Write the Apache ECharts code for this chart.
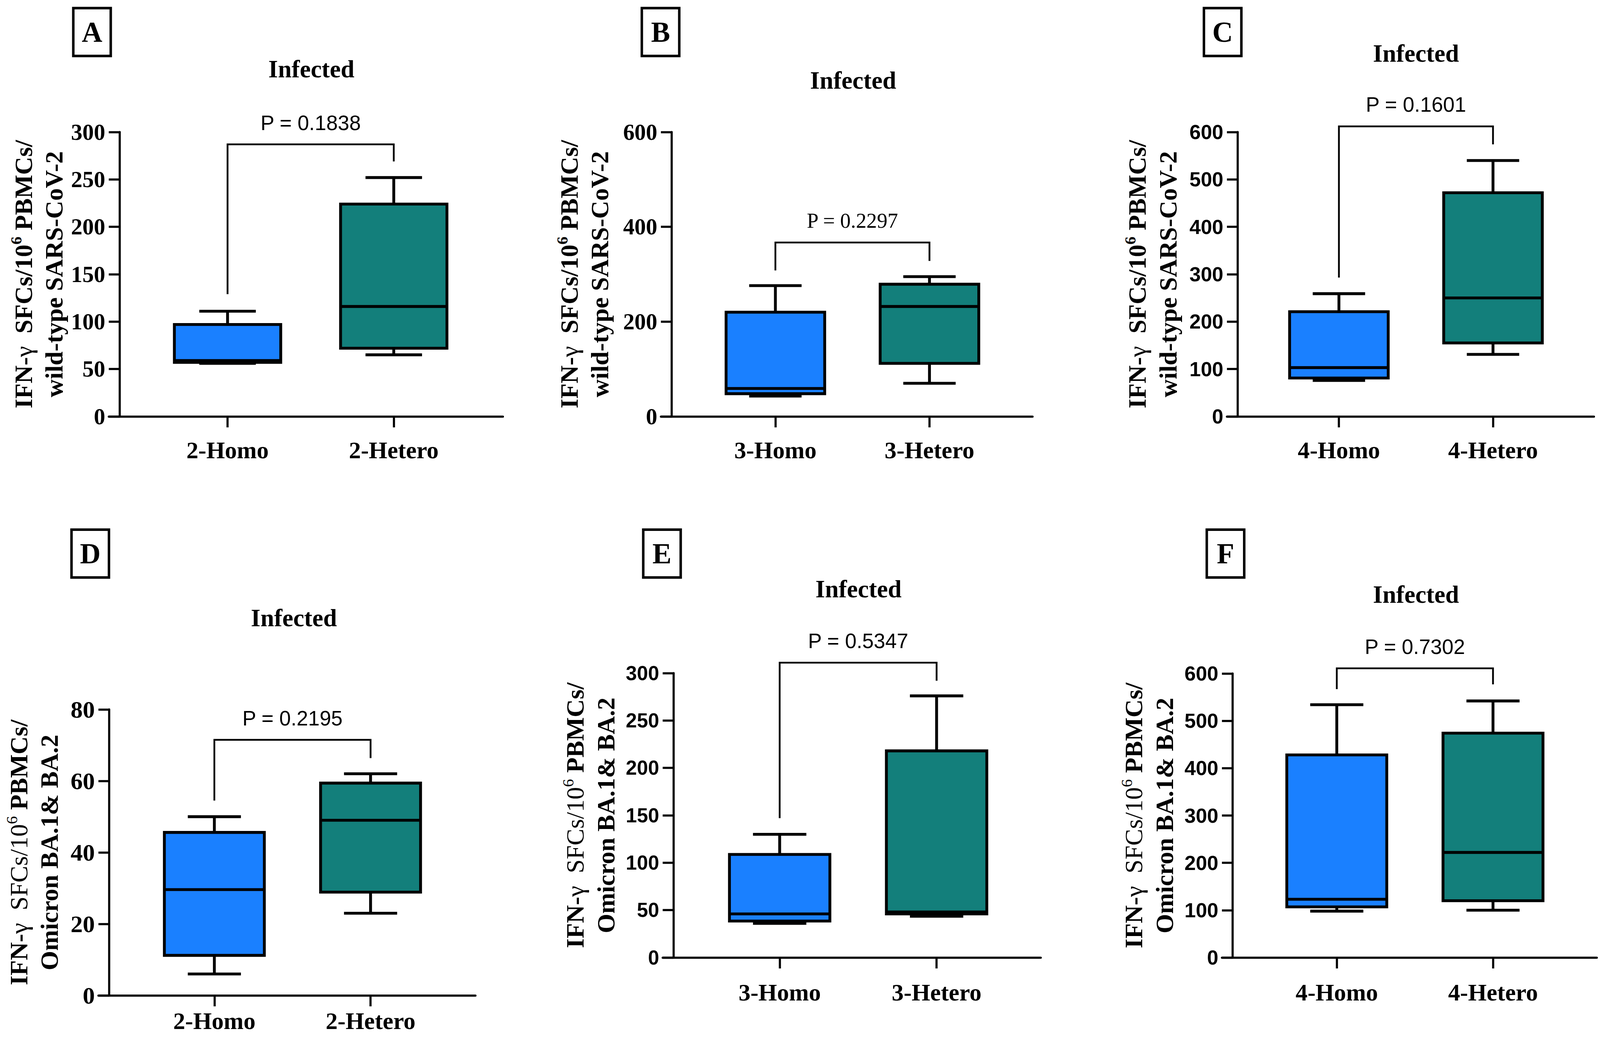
<!DOCTYPE html>
<html>
<head>
<meta charset="utf-8">
<title>IFN-γ SFCs – Infected</title>
<script src="https://cdn.jsdelivr.net/npm/echarts@6.0.0/dist/echarts.min.js"></script>
<style>
  html, body { margin: 0; padding: 0; background: #fff; overflow: hidden; }
  #chart { width: 100vw; height: 100vh; }
</style>
</head>
<body>
<div id="chart"></div>
<script>
  var SERIF = '"Liberation Serif", "Times New Roman", serif';
  var SANS = '"Liberation Sans", Arial, sans-serif';

  // ---- data ----
  var panelLetters = ['A', 'B', 'C', 'D', 'E', 'F'];
  var panelTitle = 'Infected';
  var categories = [
    ['2-Homo', '2-Hetero'], ['3-Homo', '3-Hetero'], ['4-Homo', '4-Hetero'],
    ['2-Homo', '2-Hetero'], ['3-Homo', '3-Hetero'], ['4-Homo', '4-Hetero']
  ];
  // [min, Q1, median, Q3, max]
  var homoStats = [
    [56, 57, 59, 97, 111],
    [43, 48, 59, 220, 276],
    [76, 81, 103, 221, 259],
    [6, 11.2, 29.6, 45.6, 50],
    [36, 38.5, 46, 108.7, 130],
    [98, 107, 123, 428, 534]
  ];
  var heteroStats = [
    [65, 72, 116, 224, 252],
    [70, 112, 232, 279, 295],
    [131, 155, 250, 472, 540],
    [23, 28.9, 49, 59.4, 62],
    [43.5, 46, 48, 218, 276],
    [100, 120, 222, 474, 542]
  ];
  var pLabels = ['P = 0.1838', 'P = 0.2297', 'P = 0.1601', 'P = 0.2195', 'P = 0.5347', 'P = 0.7302'];
  // [bracket level, left leg end, right leg end]
  var brackets = [
    [287, 129, 269],
    [367, 308, 328],
    [612, 293, 574],
    [71.5, 54.5, 66.4],
    [311, 147, 292],
    [611, 567, 577]
  ];
  var yMax = [300, 600, 600, 80, 300, 600];
  var yStep = [50, 200, 100, 20, 50, 100];
  var yNameLine2 = ['wild-type SARS-CoV-2', 'wild-type SARS-CoV-2', 'wild-type SARS-CoV-2',
    'Omicron BA.1& BA.2', 'Omicron BA.1& BA.2', 'Omicron BA.1& BA.2'];
  var groupColors = ['#1a80ff', '#137f7b'];

  // ---- layout, in pixels of a 4486 x 2657 page ----
  var layout = [
    {left: 305, xEnd: 1410, top: 338, bottom: 1066, c0: 638, c1: 1104, letter: [258, 82], title: [873, 177], nameGap: 137, tickFont: SERIF, tickSize: 64, catMargin: 55, pFont: SANS},
    {left: 1853, xEnd: 2895, top: 338, bottom: 1066, c0: 2174, c1: 2606, letter: [1852, 82], title: [2392, 206], nameGap: 158, tickFont: SERIF, tickSize: 64, catMargin: 55, pFont: SERIF},
    {left: 3440, xEnd: 4469, top: 338, bottom: 1066, c0: 3754, c1: 4186, letter: [3428, 82], title: [3970, 137], nameGap: 152, tickFont: SANS, tickSize: 57, catMargin: 55, pFont: SANS},
    {left: 276, xEnd: 1333, top: 1816, bottom: 2548, c0: 601, c1: 1039, letter: [253, 1417], title: [824, 1582], nameGap: 124, tickFont: SERIF, tickSize: 68, catMargin: 34, pFont: SANS},
    {left: 1858, xEnd: 2918, top: 1723, bottom: 2451, c0: 2186, c1: 2626, letter: [1856, 1417], title: [2407, 1508], nameGap: 146, tickFont: SANS, tickSize: 56, catMargin: 58, pFont: SANS},
    {left: 3426, xEnd: 4477, top: 1724, bottom: 2451, c0: 3748, c1: 4186, letter: [3436, 1417], title: [3970, 1522], nameGap: 148, tickFont: SANS, tickSize: 57, catMargin: 58, pFont: SANS}
  ];

  var dom = document.getElementById('chart');
  var sx = dom.clientWidth / 4486, sy = dom.clientHeight / 2657, sf = Math.min(sx, sy);
  function X(v) { return v * sx; }
  function Y(v) { return v * sy; }
  function F(v) { return v * sf; }

  var TICK = 30;
  var myChart = echarts.init(dom, null, {renderer: 'svg'});

  function renderBox(params, api) {
    var x = api.value(0);
    var hi = api.coord([x, api.value(5)]);
    var q3 = api.coord([x, api.value(4)]);
    var med = api.coord([x, api.value(3)]);
    var q1 = api.coord([x, api.value(2)]);
    var lo = api.coord([x, api.value(1)]);
    var unit = api.size([1, 0])[0];
    var half = unit * 0.32, cap = unit * 0.17;
    var cx = hi[0];
    var ls = {stroke: '#000', lineWidth: F(8)};
    return {
      type: 'group',
      children: [
        {type: 'line', shape: {x1: cx, y1: hi[1], x2: cx, y2: q3[1]}, style: ls},
        {type: 'line', shape: {x1: cx - cap, y1: hi[1], x2: cx + cap, y2: hi[1]}, style: ls},
        {type: 'line', shape: {x1: cx, y1: lo[1], x2: cx, y2: q1[1]}, style: ls},
        {type: 'line', shape: {x1: cx - cap, y1: lo[1], x2: cx + cap, y2: lo[1]}, style: ls},
        {type: 'rect', shape: {x: cx - half, y: q3[1], width: half * 2, height: q1[1] - q3[1]},
          style: {fill: groupColors[x], stroke: '#000', lineWidth: F(8)}},
        {type: 'line', shape: {x1: cx - half, y1: med[1], x2: cx + half, y2: med[1]}, style: ls}
      ]
    };
  }

  function makeBracket(i) {
    return function (params, api) {
      var l = api.coord([0, api.value(1)]);
      var r = api.coord([1, api.value(1)]);
      var lEnd = api.coord([0, api.value(2)]);
      var rEnd = api.coord([1, api.value(3)]);
      var isSerif = layout[i].pFont === SERIF;
      return {
        type: 'group',
        children: [
          {type: 'polyline', shape: {points: [[l[0], lEnd[1]], l, r, [r[0], rEnd[1]]]},
            style: {stroke: '#000', lineWidth: F(5), fill: 'none'}},
          {type: 'text', x: (l[0] + r[0]) / 2, y: l[1] - Y(29),
            style: {text: pLabels[i], fill: '#000', fontFamily: layout[i].pFont,
              fontSize: F(isSerif ? 59 : 58), align: 'center', verticalAlign: 'bottom'}}
        ]
      };
    };
  }

  function yName(i) {
    var line1 = i < 3
      ? '{b|IFN-}{g|γ}{b|  SFCs/10}{sup|6}{b| PBMCs/}'
      : '{b|IFN-}{g|γ}{b|  }{g|SFCs/10}{rsup|6}{b| PBMCs/}';
    return line1 + '\n{b|' + yNameLine2[i] + '}';
  }

  // the axis names are rotated: their length runs vertically
  var NAME_SIZE = 64 * sy, NAME_LH = X(86), SUP_SIZE = 41 * sy;
  var nameRich = {
    b: {fontFamily: SERIF, fontWeight: 'bold', fontSize: NAME_SIZE, lineHeight: NAME_LH, color: '#000'},
    g: {fontFamily: SERIF, fontWeight: 'normal', fontSize: NAME_SIZE, lineHeight: NAME_LH, color: '#000'},
    sup: {fontFamily: SERIF, fontWeight: 'bold', fontSize: SUP_SIZE, lineHeight: X(58), verticalAlign: 'top', color: '#000'},
    rsup: {fontFamily: SERIF, fontWeight: 'normal', fontSize: SUP_SIZE, lineHeight: X(58), verticalAlign: 'top', color: '#000'}
  };

  var grids = [], xAxes = [], yAxes = [], series = [], graphics = [];

  layout.forEach(function (L, i) {
    var sp = L.c1 - L.c0;
    grids.push({
      left: X(L.left), top: Y(L.top), width: X(L.xEnd - L.left), height: Y(L.bottom - L.top),
      containLabel: false, outerBoundsMode: 'none', show: false
    });
    xAxes.push({
      type: 'value', gridIndex: i,
      min: -(L.c0 - L.left) / sp,
      max: 1 + (L.xEnd - L.c1) / sp,
      axisLine: {show: true, onZero: false, lineStyle: {color: '#000', width: F(6)}},
      axisTick: {show: true, customValues: [0, 1], length: Y(28), lineStyle: {color: '#000', width: F(6)}},
      axisLabel: {
        show: true, customValues: [0, 1], margin: Y(L.catMargin),
        formatter: function (v) { return categories[i][Math.round(v)]; },
        fontFamily: SERIF, fontWeight: 'bold', fontSize: F(67), color: '#000'
      },
      splitLine: {show: false}
    });
    yAxes.push({
      type: 'value', gridIndex: i,
      min: 0, max: yMax[i], interval: yStep[i],
      offset: -X(TICK),
      axisLine: {show: true, onZero: false, lineStyle: {color: '#000', width: F(6)}},
      axisTick: {show: true, length: X(TICK), lineStyle: {color: '#000', width: F(6)}},
      axisLabel: {margin: X(40), fontFamily: L.tickFont, fontWeight: 'bold', fontSize: F(L.tickSize), color: '#000'},
      splitLine: {show: false},
      name: yName(i),
      nameLocation: 'middle',
      nameRotate: 90,
      nameGap: X(L.nameGap),
      nameTextStyle: {fontFamily: SERIF, fontWeight: 'bold', fontSize: NAME_SIZE, lineHeight: NAME_LH, color: '#000', rich: nameRich}
    });
    series.push({
      type: 'custom', name: panelLetters[i] + ' boxes',
      xAxisIndex: i, yAxisIndex: i,
      renderItem: renderBox,
      encode: {x: 0, y: [1, 2, 3, 4, 5]},
      data: [[0].concat(homoStats[i]), [1].concat(heteroStats[i])],
      z: 3
    });
    series.push({
      type: 'custom', name: panelLetters[i] + ' p-value',
      xAxisIndex: i, yAxisIndex: i,
      renderItem: makeBracket(i),
      encode: {x: 0, y: [1, 2, 3]},
      data: [[0].concat(brackets[i])],
      clip: false,
      z: 4
    });
    graphics.push({
      type: 'text', x: X(L.title[0]), y: Y(L.title[1]),
      style: {text: panelTitle, fill: '#000', fontFamily: SERIF, fontWeight: 'bold', fontSize: F(69),
        align: 'center', verticalAlign: 'middle'}
    });
    graphics.push({
      type: 'text', x: X(L.letter[0]), y: Y(L.letter[1]),
      style: {text: panelLetters[i], fill: '#000', fontFamily: SERIF, fontWeight: 'bold', fontSize: F(80),
        lineHeight: Y(80), width: F(58), align: 'center', verticalAlign: 'middle',
        padding: [Y(18), F(20), Y(18), F(20)], borderColor: '#000', borderWidth: F(7), backgroundColor: '#fff'}
    });
  });

  var option = {
    backgroundColor: '#fff',
    animation: false,
    grid: grids,
    xAxis: xAxes,
    yAxis: yAxes,
    series: series,
    graphic: graphics
  };

  myChart.setOption(option);
</script>
</body>
</html>
